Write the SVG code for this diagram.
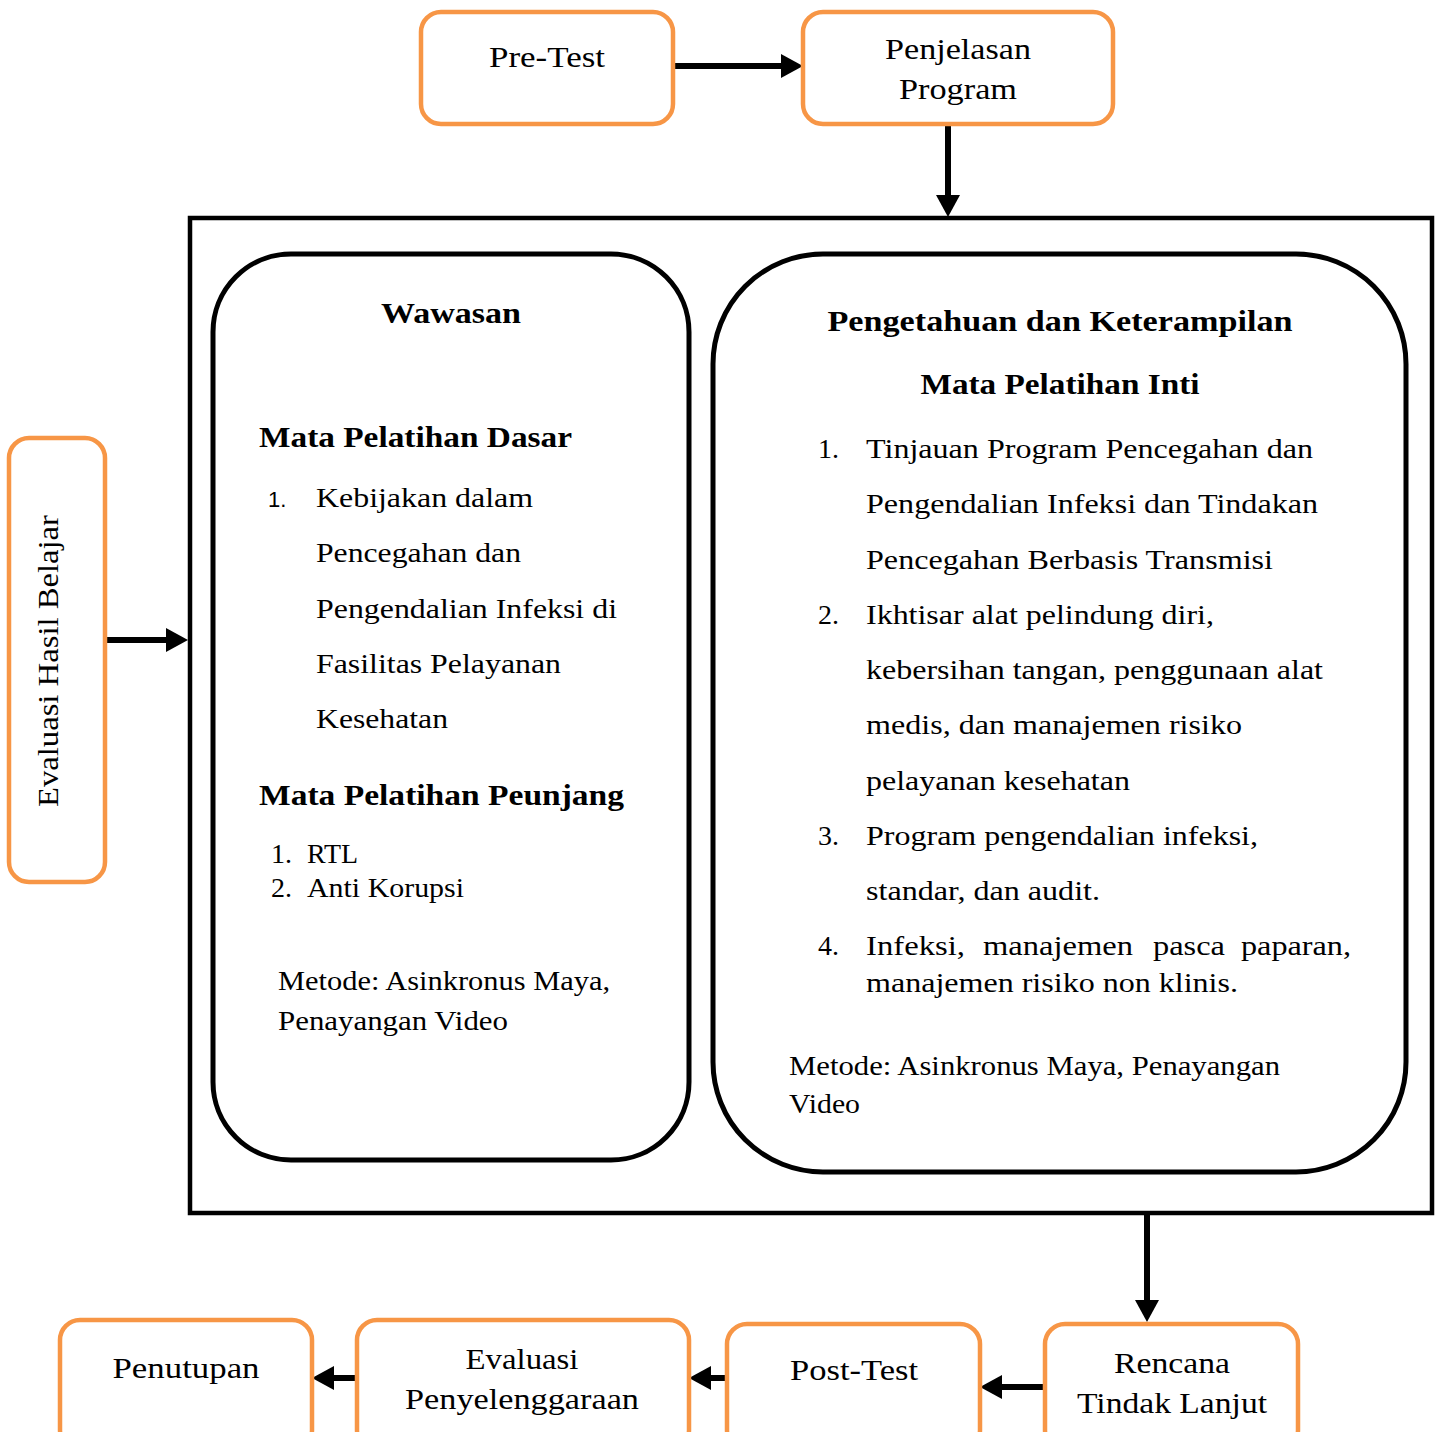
<svg xmlns="http://www.w3.org/2000/svg" width="1440" height="1432" viewBox="0 0 1440 1432">
<style>
.box{fill:#fff;stroke:#F79646;stroke-width:4.5}
.panel{fill:#fff;stroke:#000;stroke-width:5}
.lbl{font-family:"Liberation Serif","Times New Roman",serif;font-size:30px;fill:#000}
.t{font-family:"Liberation Serif","Times New Roman",serif;font-size:28px;fill:#000}
.h{font-family:"Liberation Serif","Times New Roman",serif;font-size:30px;font-weight:bold;fill:#000}
.num{font-family:"Liberation Sans",Arial,sans-serif;font-size:22px;fill:#000}
.mid{text-anchor:middle}
.con{stroke:#000;stroke-width:6;fill:none}
</style>
<defs>
<marker id="ah" markerUnits="userSpaceOnUse" markerWidth="22" markerHeight="24" refX="0" refY="12" orient="auto">
<path d="M0,0 L22,12 L0,24 z" fill="#000"/>
</marker>
</defs>
<rect width="1440" height="1432" fill="#fff"/>

<g id="frame">
<rect x="190" y="218" width="1242" height="995" fill="none" stroke="#000" stroke-width="4.5"/>
</g>

<g id="connectors">
<line class="con" x1="673" y1="66" x2="781" y2="66" marker-end="url(#ah)"/>
<line class="con" x1="948" y1="124" x2="948" y2="195" marker-end="url(#ah)"/>
<line class="con" x1="105" y1="640" x2="166" y2="640" marker-end="url(#ah)"/>
<line class="con" x1="1147" y1="1215" x2="1147" y2="1300" marker-end="url(#ah)"/>
<line class="con" x1="1045" y1="1387" x2="1002" y2="1387" marker-end="url(#ah)"/>
<line class="con" x1="727" y1="1378" x2="711" y2="1378" marker-end="url(#ah)"/>
<line class="con" x1="357" y1="1378" x2="334" y2="1378" marker-end="url(#ah)"/>
</g>

<g id="pretest">
<rect class="box" x="421" y="12" width="252" height="112" rx="20"/>
<text class="lbl mid" x="547" y="67" textLength="116" lengthAdjust="spacingAndGlyphs">Pre-Test</text>
</g>

<g id="penjelasan">
<rect class="box" x="803" y="12" width="310" height="112" rx="20"/>
<text class="lbl mid" x="958" y="59" textLength="146" lengthAdjust="spacingAndGlyphs">Penjelasan</text>
<text class="lbl mid" x="958" y="99" textLength="118" lengthAdjust="spacingAndGlyphs">Program</text>
</g>

<g id="evaluasi-hasil">
<rect class="box" x="9" y="438" width="96" height="444" rx="20"/>
<text class="lbl mid" transform="translate(58,661) rotate(-90)" x="0" y="0" textLength="292" lengthAdjust="spacingAndGlyphs">Evaluasi Hasil Belajar</text>
</g>

<g id="wawasan">
<rect class="panel" x="213" y="254" width="476" height="906" rx="78"/>
<text class="h mid" x="451" y="323" textLength="140" lengthAdjust="spacingAndGlyphs">Wawasan</text>
<text class="h" x="259" y="447" textLength="313" lengthAdjust="spacingAndGlyphs">Mata Pelatihan Dasar</text>
<text class="num" x="268" y="507">1.</text>
<text class="t" x="316" y="507" textLength="217" lengthAdjust="spacingAndGlyphs">Kebijakan dalam</text>
<text class="t" x="316" y="562" textLength="205" lengthAdjust="spacingAndGlyphs">Pencegahan dan</text>
<text class="t" x="316" y="618" textLength="301" lengthAdjust="spacingAndGlyphs">Pengendalian Infeksi di</text>
<text class="t" x="316" y="673" textLength="245" lengthAdjust="spacingAndGlyphs">Fasilitas Pelayanan</text>
<text class="t" x="316" y="728" textLength="132" lengthAdjust="spacingAndGlyphs">Kesehatan</text>
<text class="h" x="259" y="805" textLength="365" lengthAdjust="spacingAndGlyphs">Mata Pelatihan Peunjang</text>
<text class="t" x="271" y="863">1.</text>
<text class="t" x="307" y="863" textLength="51" lengthAdjust="spacingAndGlyphs">RTL</text>
<text class="t" x="271" y="897">2.</text>
<text class="t" x="307" y="897" textLength="157" lengthAdjust="spacingAndGlyphs">Anti Korupsi</text>
<text class="t" x="278" y="990" textLength="332" lengthAdjust="spacingAndGlyphs">Metode: Asinkronus Maya,</text>
<text class="t" x="278" y="1030" textLength="230" lengthAdjust="spacingAndGlyphs">Penayangan Video</text>
</g>

<g id="pengetahuan">
<rect class="panel" x="713" y="254" width="693" height="918" rx="110"/>
<text class="h mid" x="1060" y="331" textLength="465" lengthAdjust="spacingAndGlyphs">Pengetahuan dan Keterampilan</text>
<text class="h mid" x="1060" y="394" textLength="279" lengthAdjust="spacingAndGlyphs">Mata Pelatihan Inti</text>
<text class="t" x="818" y="458">1.</text>
<text class="t" x="866" y="458" textLength="447" lengthAdjust="spacingAndGlyphs">Tinjauan Program Pencegahan dan</text>
<text class="t" x="866" y="513" textLength="452" lengthAdjust="spacingAndGlyphs">Pengendalian Infeksi dan Tindakan</text>
<text class="t" x="866" y="569" textLength="407" lengthAdjust="spacingAndGlyphs">Pencegahan Berbasis Transmisi</text>
<text class="t" x="818" y="624">2.</text>
<text class="t" x="866" y="624" textLength="348" lengthAdjust="spacingAndGlyphs">Ikhtisar alat pelindung diri,</text>
<text class="t" x="866" y="679" textLength="457" lengthAdjust="spacingAndGlyphs">kebersihan tangan, penggunaan alat</text>
<text class="t" x="866" y="734" textLength="376" lengthAdjust="spacingAndGlyphs">medis, dan manajemen risiko</text>
<text class="t" x="866" y="790" textLength="264" lengthAdjust="spacingAndGlyphs">pelayanan kesehatan</text>
<text class="t" x="818" y="845">3.</text>
<text class="t" x="866" y="845" textLength="392" lengthAdjust="spacingAndGlyphs">Program pengendalian infeksi,</text>
<text class="t" x="866" y="900" textLength="234" lengthAdjust="spacingAndGlyphs">standar, dan audit.</text>
<text class="t" x="818" y="955">4.</text>
<text class="t" x="866" y="955" textLength="99" lengthAdjust="spacingAndGlyphs">Infeksi,</text>
<text class="t" x="983" y="955" textLength="150" lengthAdjust="spacingAndGlyphs">manajemen</text>
<text class="t" x="1153" y="955" textLength="72" lengthAdjust="spacingAndGlyphs">pasca</text>
<text class="t" x="1241" y="955" textLength="110" lengthAdjust="spacingAndGlyphs">paparan,</text>
<text class="t" x="866" y="992" textLength="372" lengthAdjust="spacingAndGlyphs">manajemen risiko non klinis.</text>
<text class="t" x="789" y="1075" textLength="491" lengthAdjust="spacingAndGlyphs">Metode: Asinkronus Maya, Penayangan</text>
<text class="t" x="789" y="1113" textLength="71" lengthAdjust="spacingAndGlyphs">Video</text>
</g>

<g id="penutupan">
<rect class="box" x="60" y="1320" width="252" height="130" rx="20"/>
<text class="lbl mid" x="186" y="1378" textLength="147" lengthAdjust="spacingAndGlyphs">Penutupan</text>
</g>

<g id="evaluasi-penyelenggaraan">
<rect class="box" x="357" y="1320" width="332" height="130" rx="20"/>
<text class="lbl mid" x="522" y="1369" textLength="113" lengthAdjust="spacingAndGlyphs">Evaluasi</text>
<text class="lbl mid" x="522" y="1409" textLength="234" lengthAdjust="spacingAndGlyphs">Penyelenggaraan</text>
</g>

<g id="posttest">
<rect class="box" x="727" y="1324" width="253" height="126" rx="20"/>
<text class="lbl mid" x="854" y="1380" textLength="128" lengthAdjust="spacingAndGlyphs">Post-Test</text>
</g>

<g id="rtl">
<rect class="box" x="1045" y="1324" width="253" height="126" rx="20"/>
<text class="lbl mid" x="1172" y="1373" textLength="116" lengthAdjust="spacingAndGlyphs">Rencana</text>
<text class="lbl mid" x="1172" y="1413" textLength="190" lengthAdjust="spacingAndGlyphs">Tindak Lanjut</text>
</g>
</svg>
